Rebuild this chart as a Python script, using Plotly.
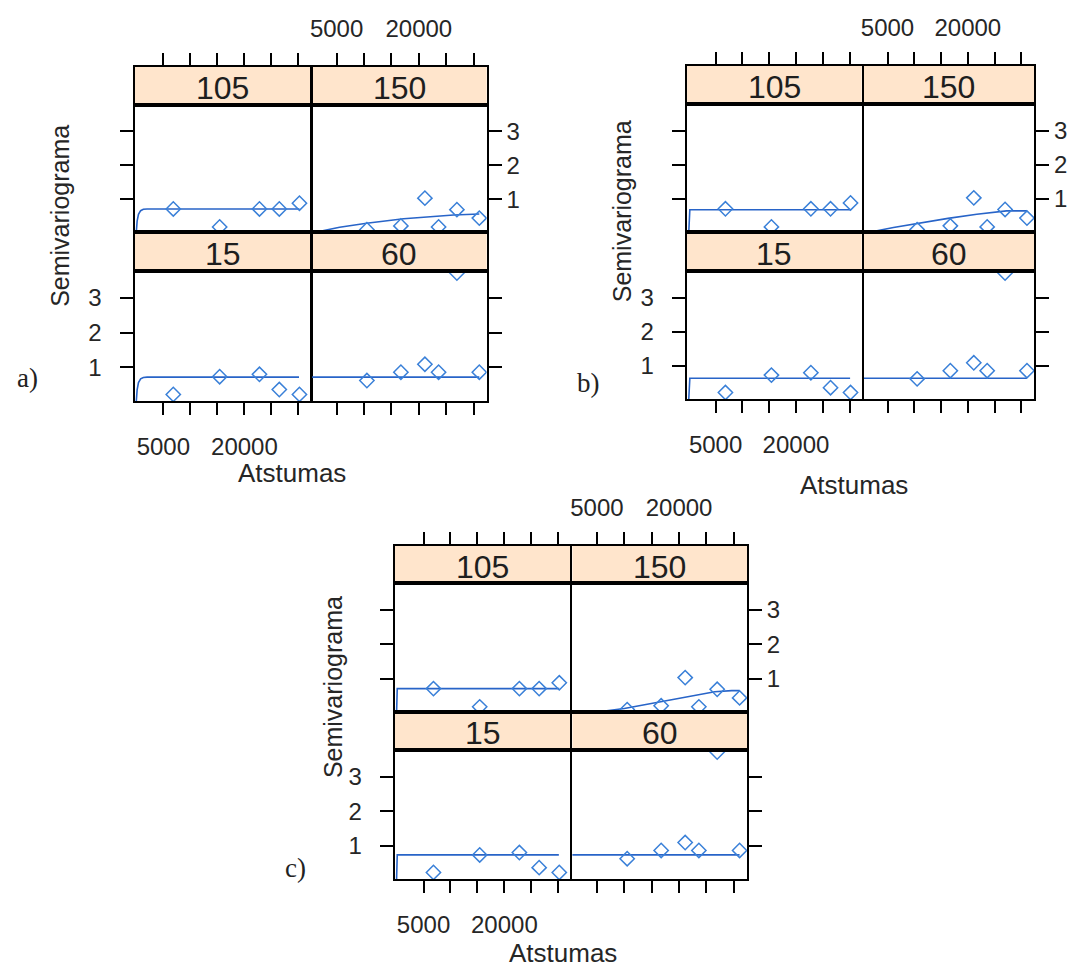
import plotly.graph_objects as go

# ---- empirical directional semivariogram (same points in all three fits) ----
directions = ["105", "150", "15", "60"]          # panel order: top-left, top-right, bottom-left, bottom-right
dist_left = [6840, 15420, 22780, 26450, 30180]   # lags for 105 and 15 degrees
dist_right = [10530, 16730, 21110, 23610, 26950, 31040]  # lags for 150 and 60 degrees
gamma_105 = [0.71, 0.18, 0.71, 0.71, 0.88]
gamma_15 = [0.22, 0.73, 0.80, 0.36, 0.22]
gamma_150 = [0.10, 0.21, 1.03, 0.18, 0.69, 0.44]
gamma_60 = [0.62, 0.86, 1.09, 0.86, 3.72, 0.86]

# ---- fitted model curves (distance, semivariance) for fits a), b), c) ----
fit_a_105_x = [0, 150, 400, 800, 1300, 2000, 30180]
fit_a_105_y = [0.03, 0.35, 0.55, 0.66, 0.70, 0.71, 0.71]
fit_a_150_x = [0, 1350, 5550, 10470, 17230, 21970, 26350, 31040]
fit_a_150_y = [0.0, 0.03, 0.17, 0.29, 0.42, 0.48, 0.53, 0.56]
fit_a_15_x = [0, 150, 400, 800, 1300, 2000, 30100]
fit_a_15_y = [0.03, 0.35, 0.56, 0.67, 0.71, 0.72, 0.72]
fit_a_60_x = [0, 31040]
fit_a_60_y = [0.72, 0.72]

fit_b_105_x = [0, 60, 200, 30190]
fit_b_105_y = [0.03, 0.40, 0.68, 0.68]
fit_b_150_x = [0, 1850, 6110, 10740, 16300, 21670, 27220, 31040]
fit_b_150_y = [0.0, 0.03, 0.16, 0.29, 0.43, 0.55, 0.65, 0.65]
fit_b_15_x = [0, 60, 200, 30100]
fit_b_15_y = [0.03, 0.35, 0.64, 0.64]
fit_b_60_x = [0, 31040]
fit_b_60_y = [0.64, 0.64]

fit_c_105_x = [0, 30, 120, 30180]
fit_c_105_y = [0.03, 0.50, 0.71, 0.71]
fit_c_150_x = [0, 5000, 10000, 16200, 22200, 26500, 29600, 31040]
fit_c_150_y = [0.0, 0.03, 0.13, 0.32, 0.50, 0.62, 0.65, 0.65]
fit_c_15_x = [0, 30, 120, 30100]
fit_c_15_y = [0.03, 0.50, 0.73, 0.73]
fit_c_60_x = [0, 31040]
fit_c_60_y = [0.73, 0.73]

x_tickvals = [5000, 10000, 15000, 20000, 25000, 30000]
x_ticktext = ["5000", "", "", "20000", "", ""]
y_tickvals = [1, 2, 3]
y_ticktext = ["1", "2", "3"]

points = {
    "105": (dist_left, gamma_105),
    "150": (dist_right, gamma_150),
    "15": (dist_left, gamma_15),
    "60": (dist_right, gamma_60),
}
fits = {
    "a": {"105": (fit_a_105_x, fit_a_105_y), "150": (fit_a_150_x, fit_a_150_y),
          "15": (fit_a_15_x, fit_a_15_y), "60": (fit_a_60_x, fit_a_60_y)},
    "b": {"105": (fit_b_105_x, fit_b_105_y), "150": (fit_b_150_x, fit_b_150_y),
          "15": (fit_b_15_x, fit_b_15_y), "60": (fit_b_60_x, fit_b_60_y)},
    "c": {"105": (fit_c_105_x, fit_c_105_y), "150": (fit_c_150_x, fit_c_150_y),
          "15": (fit_c_15_x, fit_c_15_y), "60": (fit_c_60_x, fit_c_60_y)},
}

# ---- page geometry (pixels) ----
W, H = 1088, 969
blocks = {
    "a": dict(cols=((132, 308.5), (310, 485)), rows=(67, 105, 232, 271, 401),
              ylab=(57, 216), xlab=(290, 473), tag=(25, 378)),
    "b": dict(cols=((686, 861), (863, 1034)), rows=(66, 104, 232, 271, 399),
              ylab=(621, 211), xlab=(853, 485), tag=(587, 383)),
    "c": dict(cols=((393, 569), (571, 746)), rows=(546, 583, 712, 750, 879),
              ylab=(331, 687), xlab=(562, 953), tag=(293, 868)),
}
x_ranges = ([-310, 32250], [540, 32380])
y_range = [0.03, 3.78]

FONT = "Liberation Sans, Arial, sans-serif"
TXT = "#262626"
LINE_COL = "#2864c8"
PT_COL = "#3a80d8"
STRIP_BG = "#ffe5cc"
GAP = "\u00a0" * 2   # keeps left-hand y labels clear of the tick marks


def fx(p):
    return p / W


def fy(p):
    return 1 - p / H


def aname(kind, k):
    return f"{kind}axis" if k == 1 else f"{kind}axis{k}"


def aref(kind, k):
    return kind if k == 1 else f"{kind}{k}"


fig = go.Figure()
layout = {}
shapes = []
annotations = []
tick_font = dict(family=FONT, size=24, color=TXT)
frame = dict(showline=True, linecolor="black", linewidth=2, mirror=True,
             showgrid=False, zeroline=False)

k = 1
for key in ["a", "b", "c"]:
    blk = blocks[key]
    rows = blk["rows"]
    for idx, dname in enumerate(directions):
        r, c = divmod(idx, 2)
        cx0, cx1 = blk["cols"][c]
        if r == 0:
            s_top, s_bot, p_top, p_bot = rows[0], rows[1], rows[1], rows[2]
        else:
            s_top, s_bot, p_top, p_bot = rows[2], rows[3], rows[3], rows[4]
        kd, ks = k, k + 1
        xd, yd = aref("x", kd), aref("y", kd)
        xs, ys = aref("x", ks), aref("y", ks)

        # data panel
        layout[aname("x", kd)] = dict(
            domain=[fx(cx0), fx(cx1)], anchor=yd, range=x_ranges[c], **frame,
            tickvals=x_tickvals, ticktext=x_ticktext,
            ticks="outside" if r == 1 else "", ticklen=12, tickwidth=1.8, tickcolor="black",
            showticklabels=(r == 1 and c == 0), tickfont=tick_font, ticklabelstandoff=11,
        )
        layout[aname("y", kd)] = dict(
            domain=[fy(p_bot), fy(p_top)], anchor=xd, range=y_range, **frame,
            side="left" if c == 0 else "right",
            tickvals=y_tickvals,
            ticktext=[t + GAP for t in y_ticktext] if c == 0 else y_ticktext,
            ticks="outside", ticklen=13, tickwidth=1.8, tickcolor="black",
            showticklabels=(r == 1 and c == 0) or (r == 0 and c == 1),
            tickfont=tick_font,
        )
        # strip above the panel, carrying the top ticks
        layout[aname("x", ks)] = dict(
            domain=[fx(cx0), fx(cx1)], anchor=ys, range=x_ranges[c], **frame,
            side="top", tickvals=x_tickvals, ticktext=x_ticktext,
            ticks="outside" if r == 0 else "", ticklen=12, tickwidth=1.8, tickcolor="black",
            showticklabels=(r == 0 and c == 1), tickfont=tick_font, ticklabelstandoff=6,
        )
        layout[aname("y", ks)] = dict(
            domain=[fy(s_bot), fy(s_top)], anchor=xs, range=[0, 1], **frame,
            ticks="", showticklabels=False,
        )
        fig.add_trace(go.Scatter(x=[None], y=[None], mode="markers", xaxis=xs, yaxis=ys,
                                 showlegend=False, hoverinfo="skip"))
        shapes.append(dict(type="rect", xref=f"{xs} domain", yref=f"{ys} domain",
                           x0=0, x1=1, y0=0, y1=1, fillcolor=STRIP_BG,
                           line=dict(width=0), layer="below"))
        annotations.append(dict(text=dname, xref=f"{xs} domain", yref=f"{ys} domain",
                                x=0.5, y=0.44, xanchor="center", yanchor="middle",
                                showarrow=False,
                                font=dict(family=FONT, size=32, color="#1e1e1e")))

        mx, my = fits[key][dname]
        fig.add_trace(go.Scatter(x=mx, y=my, mode="lines", xaxis=xd, yaxis=yd,
                                 line=dict(color=LINE_COL, width=1.6), showlegend=False,
                                 hoverinfo="skip"))
        px_, py_ = points[dname]
        fig.add_trace(go.Scatter(x=px_, y=py_, mode="markers", xaxis=xd, yaxis=yd,
                                 marker=dict(symbol="diamond-open", size=11, color=PT_COL,
                                             line=dict(width=1.5, color=PT_COL)),
                                 showlegend=False))
        k += 2

    # axis titles and panel tag
    annotations.append(dict(text="Semivariograma", xref="paper", yref="paper",
                            x=fx(blk["ylab"][0]), y=fy(blk["ylab"][1]), textangle=-90,
                            xanchor="center", yanchor="middle",
                            showarrow=False, font=dict(family=FONT, size=25, color=TXT)))
    annotations.append(dict(text="Atstumas", xref="paper", yref="paper",
                            x=fx(blk["xlab"][0]), y=fy(blk["xlab"][1]),
                            xanchor="center", yanchor="middle",
                            showarrow=False, font=dict(family=FONT, size=26, color=TXT)))
    annotations.append(dict(text=f"{key})", xref="paper", yref="paper",
                            x=fx(blk["tag"][0]), y=fy(blk["tag"][1]),
                            xanchor="center", yanchor="middle", showarrow=False,
                            font=dict(family="Liberation Serif, Times New Roman, serif",
                                      size=27, color="#222222")))

fig.update_layout(
    width=W, height=H, margin=dict(l=0, r=0, t=0, b=0),
    paper_bgcolor="white", plot_bgcolor="white",
    font=dict(family=FONT, color=TXT),
    shapes=shapes, annotations=annotations, showlegend=False,
    **layout,
)

fig.write_html("out.html")
